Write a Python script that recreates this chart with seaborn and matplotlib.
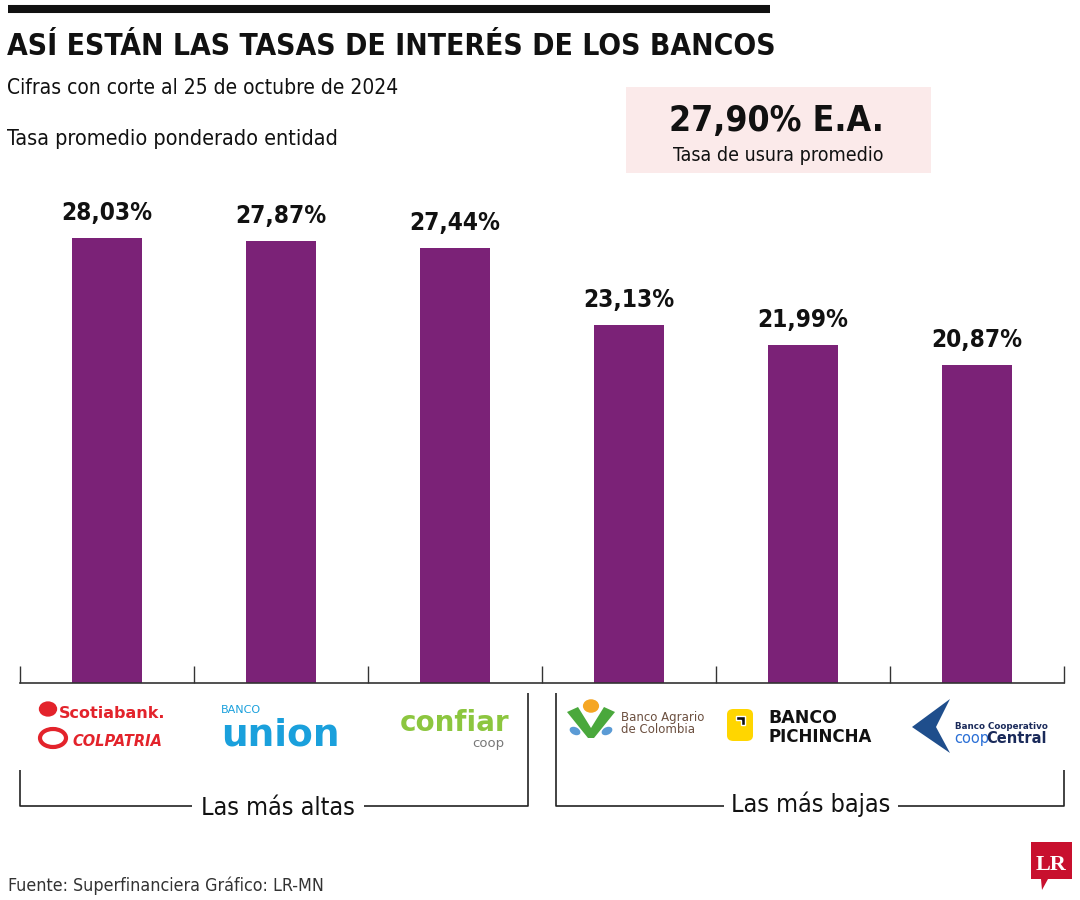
import matplotlib
matplotlib.use("Agg")
import matplotlib.pyplot as plt
from matplotlib import font_manager
from matplotlib.lines import Line2D
from matplotlib.patches import Rectangle, FancyBboxPatch, Polygon, Circle, Ellipse
import seaborn as sns
import pandas as pd

# ---------------- data ----------------
banks = ["Scotiabank Colpatria", "Banco Union", "Confiar Coop",
         "Banco Agrario de Colombia", "Banco Pichincha", "Banco Cooperativo Coopcentral"]
rates = [28.03, 27.87, 27.44, 23.13, 21.99, 20.87]
rate_labels = ["28,03%", "27,87%", "27,44%", "23,13%", "21,99%", "20,87%"]
group_labels = ["Las más altas", "Las más bajas"]
title = "ASÍ ESTÁN LAS TASAS DE INTERÉS DE LOS BANCOS"
subtitle = "Cifras con corte al 25 de octubre de 2024"
measure = "Tasa promedio ponderado entidad"
usura_value = "27,90% E.A."
usura_label = "Tasa de usura promedio"
source = "Fuente: Superfinanciera Gráfico: LR-MN"

df = pd.DataFrame({"bank": banks, "rate": rates})

# ---------------- fonts ----------------
names = {f.name for f in font_manager.fontManager.ttflist}
sns.set_theme(style="white")
if "Liberation Sans Narrow" in names:
    FAM = ["Liberation Sans Narrow", "DejaVu Sans"]
    STRETCH = "normal"
else:
    FAM = ["DejaVu Sans"]
    STRETCH = "condensed"
plt.rcParams["font.family"] = FAM

W, H = 1080, 900
fig = plt.figure(figsize=(W / 100, H / 100), dpi=100)
fig.patch.set_facecolor("white")


def fx(px):
    return px / W


def fy(py):
    return 1 - py / H


def fline(xs, ys, lw=1.2, color="#222222"):
    fig.add_artist(Line2D([fx(x) for x in xs], [fy(y) for y in ys],
                          transform=fig.transFigure, color=color, lw=lw,
                          solid_capstyle="butt"))


# ---------------- axes ----------------
ax = fig.add_axes([fx(20), fy(683), fx(1064) - fx(20), fy(180) - fy(683)])
sns.barplot(data=df, x="bank", y="rate", color="#7b2277", width=0.4,
            saturation=1, ax=ax, edgecolor="none")
ax.set_xlim(-0.5, 5.5)
ax.set_ylim(2.94, 31.3)
for s in ["top", "right", "left"]:
    ax.spines[s].set_visible(False)
ax.spines["bottom"].set_color("#333333")
ax.spines["bottom"].set_linewidth(1.2)
ax.set_yticks([])
ax.set_xticks([i - 0.5 for i in range(7)])
ax.set_xticklabels([])
ax.tick_params(axis="x", direction="in", length=12, width=1.0, color="#333333", bottom=True)
ax.set_xlabel("")
ax.set_ylabel("")
ax.set_facecolor("white")

for i, (v, lab) in enumerate(zip(rates, rate_labels)):
    ax.text(i, v + 0.75, lab, ha="center", va="bottom", fontsize=17.5,
            fontweight="bold", color="#111111", fontstretch=STRETCH)

# ---------------- header ----------------
fline([8, 770], [9, 9], lw=5.8, color="#111111")
fig.text(fx(7), fy(55), title, fontsize=21.5, fontweight="bold", color="#111111",
         va="baseline", ha="left", fontstretch=STRETCH)
fig.text(fx(7), fy(94), subtitle, fontsize=15, color="#111111",
         va="baseline", ha="left", fontstretch=STRETCH)
fig.text(fx(7), fy(145), measure, fontsize=15.5, color="#111111",
         va="baseline", ha="left", fontstretch=STRETCH)

fig.add_artist(Rectangle((fx(626), fy(173)), fx(931) - fx(626), fy(87) - fy(173),
                         transform=fig.transFigure, facecolor="#fbeaea",
                         edgecolor="none"))
fig.text(fx(776), fy(131), usura_value, fontsize=25.5, fontweight="bold",
         color="#111111", ha="center", va="baseline", fontstretch=STRETCH)
fig.text(fx(778), fy(161), usura_label, fontsize=14, color="#111111",
         ha="center", va="baseline", fontstretch=STRETCH)

# ---------------- logos (as styled text) ----------------
LOGO = ["DejaVu Sans"]
red = "#e3232b"
# Scotiabank Colpatria
fig.text(fx(59), fy(718), "Scotiabank.", family=LOGO, fontsize=11.5, fontweight="bold",
         color=red, ha="left", va="baseline")
fig.add_artist(Circle((fx(48), fy(709)), 0.0085, transform=fig.transFigure,
                      facecolor=red, edgecolor="none"))
fig.text(fx(72), fy(746), "COLPATRIA", family=LOGO, fontsize=10.5, fontweight="bold",
         style="italic", color=red, ha="left", va="baseline")
fig.add_artist(Ellipse((fx(53), fy(738)), fx(26), 0.02, transform=fig.transFigure,
                       facecolor="none", edgecolor=red, lw=3))
# Banco Union
blue = "#1aa0dc"
fig.text(fx(221), fy(713), "BANCO", family=LOGO, fontsize=8, color=blue,
         ha="left", va="baseline")
fig.text(fx(221), fy(746), "union", family=LOGO, fontsize=27, fontweight="bold",
         color=blue, ha="left", va="baseline")
# Confiar
green = "#8cc63f"
fig.text(fx(400), fy(731), "confiar", family=LOGO, fontsize=20, fontweight="bold",
         color=green, ha="left", va="baseline")
fig.text(fx(504), fy(747), "coop", family=LOGO, fontsize=9.5, color="#777777",
         ha="right", va="baseline")
# Banco Agrario
fig.add_artist(Polygon([(fx(567), fy(712)), (fx(578), fy(707)), (fx(591), fy(728)),
                        (fx(604), fy(707)), (fx(615), fy(712)), (fx(594), fy(738)),
                        (fx(588), fy(738))], closed=True, transform=fig.transFigure,
                       facecolor="#4aa83c", edgecolor="none"))
fig.add_artist(Circle((fx(591), fy(706)), 0.0075, transform=fig.transFigure,
                      facecolor="#f5a623", edgecolor="none"))
fig.add_artist(Ellipse((fx(575), fy(731)), fx(12), 0.008, angle=-40,
                       transform=fig.transFigure, facecolor="#5b9bd5", edgecolor="none"))
fig.add_artist(Ellipse((fx(607), fy(731)), fx(12), 0.008, angle=40,
                       transform=fig.transFigure, facecolor="#5b9bd5", edgecolor="none"))
fig.text(fx(621), fy(721), "Banco Agrario", family=LOGO, fontsize=8.5, color="#6b4f3f",
         ha="left", va="baseline")
fig.text(fx(621), fy(733), "de Colombia", family=LOGO, fontsize=8.5, color="#6b4f3f",
         ha="left", va="baseline")
# Banco Pichincha
fig.add_artist(FancyBboxPatch((fx(727), fy(741)), fx(26), fy(709) - fy(741),
                              boxstyle="round,pad=0,rounding_size=0.006",
                              transform=fig.transFigure, facecolor="#ffd600",
                              edgecolor="none"))
fig.add_artist(Polygon([(fx(736), fy(716)), (fx(745), fy(716)), (fx(745), fy(725)),
                        (fx(741), fy(725)), (fx(741), fy(720)), (fx(736), fy(720))],
                       closed=True, transform=fig.transFigure, facecolor="#111111"))
fig.text(fx(768), fy(723), "BANCO", family=LOGO, fontsize=12.5, fontweight="bold",
         color="#111111", ha="left", va="baseline")
fig.text(fx(768), fy(742), "PICHINCHA", family=LOGO, fontsize=12, fontweight="bold",
         color="#111111", ha="left", va="baseline")
# Coopcentral
navy = "#1f4e8c"
fig.add_artist(Polygon([(fx(912), fy(727)), (fx(950), fy(699)), (fx(936), fy(727)),
                        (fx(950), fy(753))], closed=True, transform=fig.transFigure,
                       facecolor=navy, edgecolor="none"))
fig.text(fx(955), fy(729), "Banco Cooperativo", family=LOGO, fontsize=6.3, fontweight="bold",
         color="#1a2a5a", ha="left", va="baseline")
fig.text(fx(954), fy(743), "coop", family=LOGO, fontsize=10.5, color="#2a6fd6",
         ha="left", va="baseline")
fig.text(fx(986), fy(743), "Central", family=LOGO, fontsize=10.5, fontweight="bold",
         color="#1a2a5a", ha="left", va="baseline")

# ---------------- group brackets ----------------
fline([20, 20, 192], [770, 806, 806])
fline([364, 528, 528], [806, 806, 693])
fig.text(fx(278), fy(815), group_labels[0], fontsize=18, color="#111111",
         ha="center", va="baseline", fontstretch=STRETCH)
fline([556, 556, 724], [693, 806, 806])
fline([898, 1064, 1064], [806, 806, 770])
fig.text(fx(811), fy(812), group_labels[1], fontsize=18, color="#111111",
         ha="center", va="baseline", fontstretch=STRETCH)

# ---------------- footer ----------------
fig.text(fx(8), fy(891), source, fontsize=12.8, color="#333333", ha="left",
         va="baseline", fontstretch=STRETCH)
fig.add_artist(Polygon([(fx(1031), fy(842)), (fx(1072), fy(842)), (fx(1072), fy(879)),
                        (fx(1048), fy(879)), (fx(1042), fy(890)), (fx(1041), fy(879)),
                        (fx(1031), fy(879))], closed=True, transform=fig.transFigure,
                       facecolor="#c8102e", edgecolor="none"))
fig.text(fx(1051.5), fy(870), "LR", family=["Liberation Serif", "DejaVu Serif"],
         fontsize=16, fontweight="bold", color="white", ha="center", va="baseline")

fig.savefig("out.png", dpi=100, facecolor="white")
